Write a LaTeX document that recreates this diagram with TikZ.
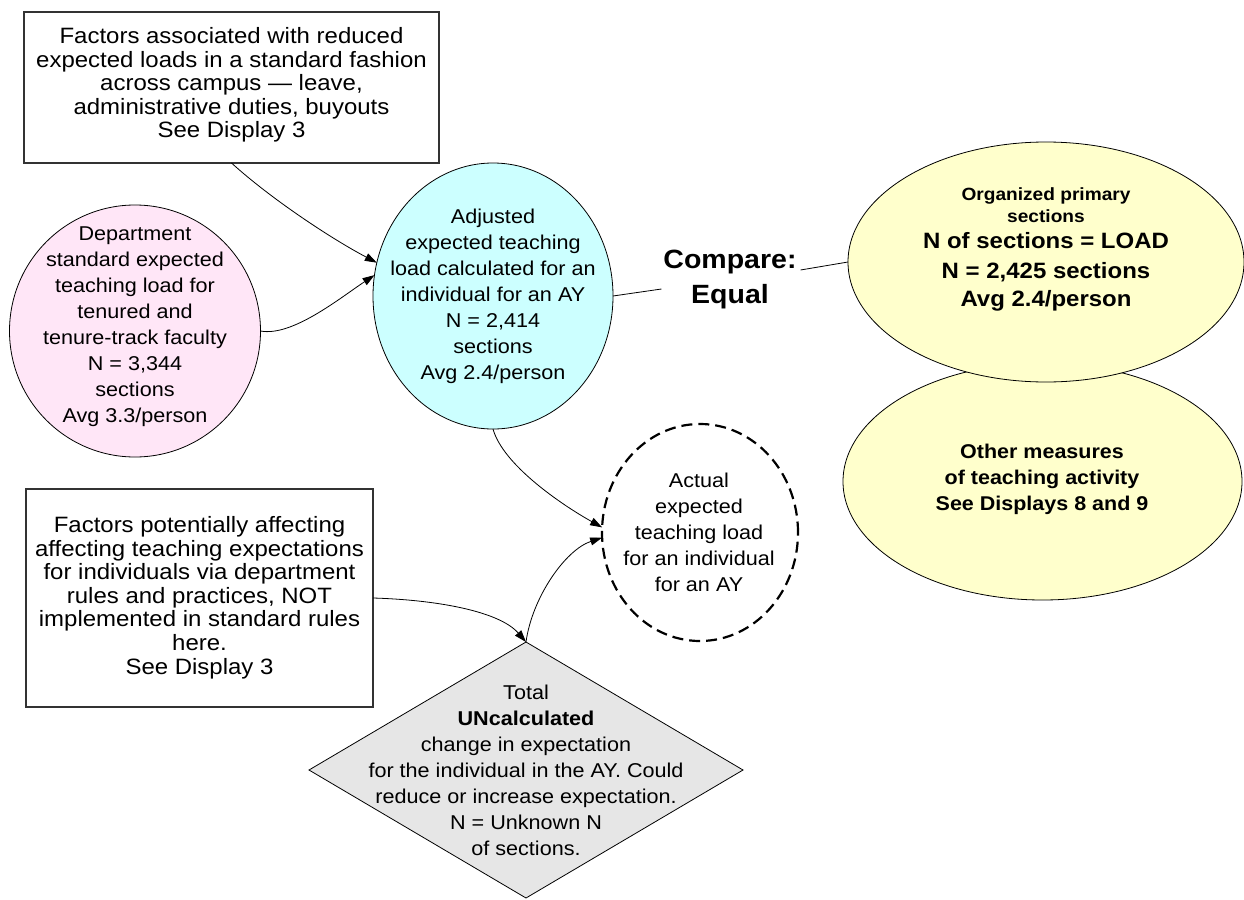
\documentclass[tikz,border=0pt]{standalone}
\usepackage{fontspec}
\setmainfont{Liberation Sans}[FakeStretch=1.08]
\usetikzlibrary{shapes.geometric,arrows.meta,calc}
\definecolor{pinkfill}{HTML}{FFE6F7}
\definecolor{cyanfill}{HTML}{CCFFFF}
\definecolor{yellowfill}{HTML}{FFFFCC}
\definecolor{greyfill}{HTML}{E6E6E6}
\begin{document}
\begin{tikzpicture}[x=1pt,y=-1pt,
  every node/.style={inner sep=0pt,outer sep=0pt},
  factorbox/.style={rectangle,draw=black!80,line width=1.1pt,fill=white},
  bubble/.style={ellipse,draw=black,line width=0.8pt},
  dashedbubble/.style={ellipse,draw=black,line width=2.2pt,dash pattern=on 11pt off 6pt},
  boxtext/.style={align=center,font=\fontsize{22.2}{23.6}\selectfont},
  bodytext/.style={align=center,font=\fontsize{20}{26}\selectfont},
  boldtext/.style={align=center,font=\bfseries\fontsize{19.9}{26}\selectfont},
  link/.style={line width=0.8pt,-{Triangle[length=12pt,width=8pt]}},
  plainlink/.style={line width=0.8pt}]
\useasboundingbox (0,0) rectangle (1244,899);

% shapes (the lower measures ellipse sits behind the primary sections one)
\node[factorbox,minimum width=415pt,minimum height=151pt] (stdfactors) at (231.5,87.5) {};
\node[bubble,fill=pinkfill,minimum width=251pt,minimum height=252pt] (deptload) at (135,331) {};
\node[bubble,fill=cyanfill,minimum width=240pt,minimum height=266pt] (adjload) at (493,296) {};
\node[bubble,fill=yellowfill,minimum width=399pt,minimum height=237pt] (othermeas) at (1042.5,481.5) {};
\node[bubble,fill=yellowfill,minimum width=396pt,minimum height=240pt] (primsec) at (1046,262) {};
\node[dashedbubble,minimum width=196pt,minimum height=217pt] (actload) at (700,532.5) {};
\node[factorbox,minimum width=347pt,minimum height=218pt] (deptfactors) at (199.5,598) {};
\node[diamond,draw=black,line width=0.8pt,fill=greyfill,minimum width=434pt,minimum height=256pt] (uncalc) at (526,770) {};

% texts
\node[boxtext] (stdfactorstext) at (231.5,85)
  {Factors associated with reduced\\expected loads in a standard fashion\\across campus — leave,\\administrative duties, buyouts\\See Display 3};
\node[bodytext] (deptloadtext) at (135,327)
  {Department\\standard expected\\teaching load for\\tenured and\\tenure-track faculty\\N = 3,344\\sections\\Avg 3.3/person};
\node[bodytext] (adjloadtext) at (493,296)
  {Adjusted\\expected teaching\\load calculated for an\\individual for an AY\\N = 2,414\\sections\\Avg 2.4/person};
\node[align=center,font=\bfseries\fontsize{26.4}{35}\selectfont] (compare) at (730,280) {Compare:\\Equal};
\node[align=center,font=\bfseries\fontsize{17.7}{22}\selectfont] (primsectext) at (1046,249)
  {Organized primary\\sections\\[4pt]{\fontsize{22.2}{22}\selectfont N of sections = LOAD}\\[8pt]{\fontsize{22.2}{22}\selectfont N = 2,425 sections}\\[6pt]{\fontsize{22.2}{22}\selectfont Avg 2.4/person}};
\node[boldtext] (othermeastext) at (1042,479)
  {Other measures\\of teaching activity\\See Displays 8 and 9};
\node[bodytext] (actloadtext) at (699,532.5)
  {Actual\\expected\\teaching load\\for an individual\\for an AY};
\node[boxtext] (deptfactorstext) at (199.5,597.5)
  {Factors potentially affecting\\affecting teaching expectations\\for individuals via department\\rules and practices, NOT\\implemented in standard rules\\here.\\See Display 3};
\node[bodytext] (uncalctext) at (526,770.5)
  {Total\\\textbf{UNcalculated}\\change in expectation\\for the individual in the AY. Could\\reduce or increase expectation.\\N = Unknown N\\of sections.};

% connectors
\coordinate (compareL) at ($(compare.west)+(-2,9)$);
\coordinate (compareR) at ($(compare.east)+(4,-10)$);
\draw[plainlink] (adjload.east) -- (compareL);
\draw[plainlink] (compareR) -- (primsec.west);

\draw[link] (stdfactors.south) .. controls (270,198) and (330,238) .. (adjload.164);
\draw[link] (deptload.east) .. controls (292,337) and (340,298) .. (adjload.170);
\draw[link] (adjload.south) .. controls (503,465) and (562,505) .. (actload.177);
\draw[link] (deptfactors.east) .. controls (440,600) and (500,612) .. (uncalc.north);
\draw[link] (uncalc.north) .. controls (532,598) and (565,550) .. (actload.183);
\end{tikzpicture}
\end{document}
